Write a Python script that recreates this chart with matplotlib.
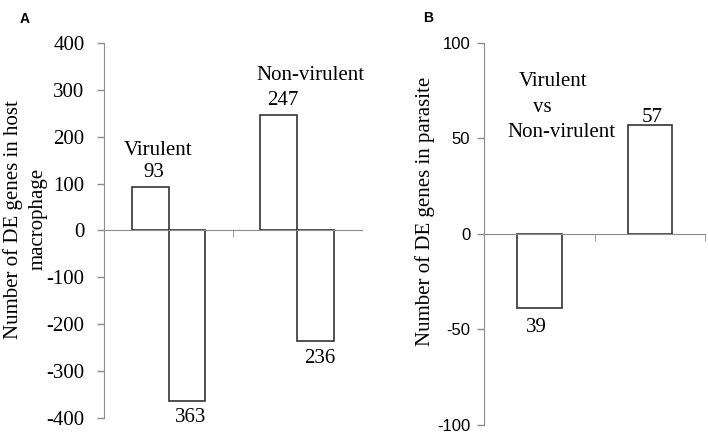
import matplotlib
matplotlib.use('Agg')
import matplotlib.pyplot as plt
import numpy as np

plt.rcParams['axes.unicode_minus'] = False

# Panel A: host macrophage, up/down regulated per strain
host_groups = ["Virulent", "Non-virulent"]
host_up = [93, 247]
host_down = [-363, -236]
host_ticks = [400, 300, 200, 100, 0, -100, -200, -300, -400]

# Panel B: parasite, virulent vs non-virulent
parasite_values = [-39, 57]
parasite_ticks = [100, 50, 0, -50, -100]

SERIF = ['Liberation Serif', 'DejaVu Serif']
SANS = ['Liberation Sans', 'DejaVu Sans']
AXIS_GRAY = '#8c8c8c'
EDGE = '#333333'
FS = 15


def style_axes(ax, tick_family, tick_size, pad):
    ax.spines['top'].set_visible(False)
    ax.spines['right'].set_visible(False)
    ax.spines['left'].set_color(AXIS_GRAY)
    ax.spines['bottom'].set_color(AXIS_GRAY)
    ax.spines['bottom'].set_position(('data', 0))
    ax.tick_params(axis='y', direction='out', length=5, color=AXIS_GRAY, width=1, pad=pad)
    ax.tick_params(axis='x', which='major', length=0)
    ax.tick_params(axis='x', which='minor', direction='out', length=5, color=AXIS_GRAY)
    ax.set_xticklabels([])
    for lab in ax.get_yticklabels():
        lab.set_family(tick_family)
        lab.set_fontsize(tick_size)


fig = plt.figure(figsize=(7.08, 4.34), dpi=100)

# ---------------- Panel A ----------------
axA = fig.add_axes([0.147, 0.037, 0.364, 0.864])
x = np.arange(len(host_groups))
w = 0.287
axA.bar(x - w / 2, host_up, width=w, facecolor='white', edgecolor=EDGE, linewidth=1.2)
axA.bar(x + w / 2, host_down, width=w, facecolor='white', edgecolor=EDGE, linewidth=1.2)
axA.set_xlim(-0.5, 1.5)
axA.set_ylim(-400, 400)
axA.set_yticks(host_ticks)
axA.set_xticks(x)
axA.set_xticks([0.5], minor=True)
style_axes(axA, SERIF, FS, 9)
axA.set_ylabel("Number of DE genes in host\nmacrophage", family=SERIF, fontsize=FS,
               linespacing=1.35)
axA.yaxis.set_label_coords(-0.22, 0.53)

for i in range(len(host_groups)):
    axA.text(x[i] - w / 2 + 0.03, host_up[i] + 10, str(host_up[i]), ha='center', va='bottom',
             family=SERIF, fontsize=FS)
    axA.text(x[i] + w / 2 + 0.03, host_down[i] - 16, str(abs(host_down[i])), ha='center', va='top',
             family=SERIF, fontsize=FS)
axA.text(x[0] - 0.08, host_up[0] + 77, host_groups[0], ha='center', va='center',
         family=SERIF, fontsize=FS)
axA.text(x[1] + 0.1, host_up[1] + 84, host_groups[1], ha='center', va='center',
         family=SERIF, fontsize=FS)

# ---------------- Panel B ----------------
axB = fig.add_axes([0.684, 0.021, 0.312, 0.880])
xb = np.arange(len(parasite_values))
axB.bar(xb, parasite_values, width=0.4, facecolor='white', edgecolor=EDGE, linewidth=1.2)
axB.set_xlim(-0.5, 1.5)
axB.set_ylim(-100, 100)
axB.set_yticks(parasite_ticks)
axB.set_xticks(xb)
axB.set_xticks([0.5, 1.5], minor=True)
style_axes(axB, SANS, 12, 5)
axB.set_ylabel("Number of DE genes in parasite", family=SERIF, fontsize=FS)
axB.yaxis.set_label_coords(-0.225, 0.56)

axB.text(xb[0] - 0.03, parasite_values[0] - 5, str(abs(parasite_values[0])), ha='center', va='top',
         family=SERIF, fontsize=FS)
axB.text(xb[1] + 0.02, parasite_values[1] - 1, str(parasite_values[1]), ha='center', va='bottom',
         family=SERIF, fontsize=FS)
axB.text(xb[0] + 0.12, 80, "Virulent", ha='center', va='center', family=SERIF, fontsize=FS)
axB.text(xb[0] + 0.03, 66, "vs", ha='center', va='center', family=SERIF, fontsize=FS)
axB.text(xb[0] + 0.2, 53, "Non-virulent", ha='center', va='center', family=SERIF, fontsize=FS)

# panel letters
fig.text(25 / 708, 1 - 19 / 434, "A", ha='center', va='center', fontweight='bold',
         family=SANS, fontsize=10)
fig.text(428 / 708, 1 - 18 / 434, "B", ha='center', va='center', fontweight='bold',
         family=SANS, fontsize=10)

fig.savefig("out.png", dpi=100)
